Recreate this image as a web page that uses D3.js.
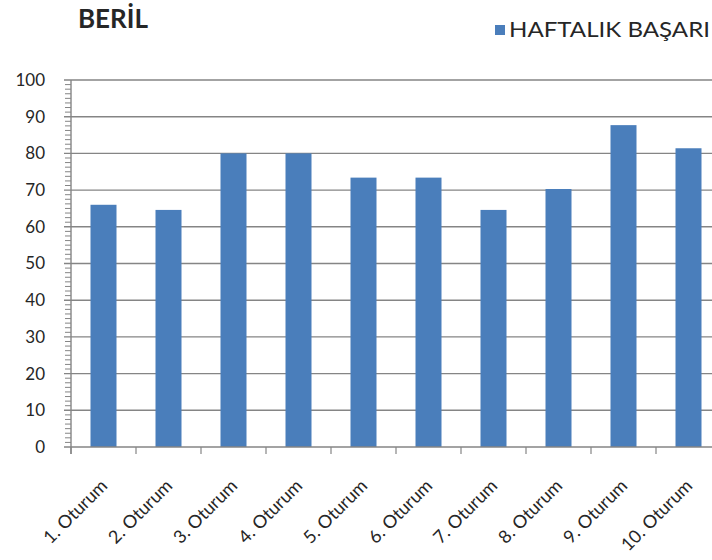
<!DOCTYPE html>
<html>
<head>
<meta charset="utf-8">
<script src="https://cdn.jsdelivr.net/npm/d3@7"></script>
<style>
  html, body { margin: 0; padding: 0; background: #fff; }
  svg { display: block; }
  text { font-family: Lato, "Open Sans", "Noto Sans", sans-serif; fill: #262626; }
</style>
</head>
<body>
<svg id="chart" width="712" height="560"></svg>
<script>
// Weekly success scores per session
const chartTitle = "BERİL";
const seriesName = "HAFTALIK BAŞARI";
const categories = ["1. Oturum", "2. Oturum", "3. Oturum", "4. Oturum", "5. Oturum",
                    "6. Oturum", "7. Oturum", "8. Oturum", "9. Oturum", "10. Oturum"];
const scores = [66, 64.6, 80, 80, 73.4, 73.4, 64.6, 70.3, 87.7, 81.4];
const yTicks = [0, 10, 20, 30, 40, 50, 60, 70, 80, 90, 100];

const svg = d3.select("#chart");
const W = 712;
const plotLeft = 71, plotRight = 721, plotTop = 80, plotBottom = 447;
const barColor = "#4a7ebb";
const gridColor = "#858585";

const x = d3.scaleBand().domain(categories).range([plotLeft, plotRight])
  .paddingInner(0.6).paddingOuter(0.3);
const y = d3.scaleLinear().domain([0, 100]).range([plotBottom, plotTop]);
const step = x.step();

// horizontal gridlines (extend left as major ticks)
svg.append("g").selectAll("line").data(yTicks.filter(d => d > 0)).join("line")
  .attr("x1", plotLeft - 7).attr("x2", W)
  .attr("y1", d => y(d)).attr("y2", d => y(d))
  .attr("stroke", gridColor).attr("stroke-width", 1.4);

// minor ticks on the value axis
const minor = d3.range(0, 100.001, 1.25).filter(v => v % 10 !== 0);
svg.append("g").selectAll("line").data(minor).join("line")
  .attr("x1", plotLeft - 6).attr("x2", plotLeft)
  .attr("y1", d => y(d)).attr("y2", d => y(d))
  .attr("stroke", gridColor).attr("stroke-width", 1);

// bars
svg.append("g").selectAll("rect").data(scores).join("rect")
  .attr("x", (d, i) => x(categories[i]))
  .attr("width", x.bandwidth())
  .attr("y", d => y(d))
  .attr("height", d => y(0) - y(d))
  .attr("fill", barColor);

// value axis line
svg.append("line")
  .attr("x1", plotLeft).attr("x2", plotLeft).attr("y1", plotTop).attr("y2", plotBottom + 7)
  .attr("stroke", gridColor).attr("stroke-width", 1.4);

// category axis line and boundary ticks
svg.append("line")
  .attr("x1", plotLeft - 7).attr("x2", W).attr("y1", plotBottom).attr("y2", plotBottom)
  .attr("stroke", gridColor).attr("stroke-width", 1.4);
svg.append("g").selectAll("line").data(categories).join("line")
  .attr("x1", d => x(d) + x.bandwidth() / 2 - step / 2)
  .attr("x2", d => x(d) + x.bandwidth() / 2 - step / 2)
  .attr("y1", plotBottom).attr("y2", plotBottom + 7)
  .attr("stroke", gridColor).attr("stroke-width", 1.2);

// value labels
svg.append("g").selectAll("text").data(yTicks).join("text")
  .attr("x", 45).attr("y", d => y(d))
  .attr("dy", "0.35em")
  .attr("text-anchor", "end")
  .attr("font-size", 17)
  .text(d => d);

// category labels, rotated
svg.append("g").selectAll("text").data(categories).join("text")
  .attr("transform", d => {
    const cx = x(d) + x.bandwidth() / 2 + 5;
    return `translate(${cx},487) rotate(-45)`;
  })
  .attr("text-anchor", "end")
  .attr("font-size", 18)
  .text(d => d);

// title
svg.append("text")
  .attr("x", 78).attr("y", 28)
  .attr("font-size", 27).attr("font-weight", 700)
  .attr("fill", "#1a1a1a")
  .attr("textLength", 70).attr("lengthAdjust", "spacingAndGlyphs")
  .text(chartTitle);

// legend
svg.append("rect")
  .attr("x", 495).attr("y", 25).attr("width", 10).attr("height", 10)
  .attr("fill", barColor);
svg.append("text")
  .attr("x", 509).attr("y", 37)
  .attr("font-size", 22)
  .attr("textLength", 201).attr("lengthAdjust", "spacingAndGlyphs")
  .text(seriesName);
</script>
</body>
</html>
